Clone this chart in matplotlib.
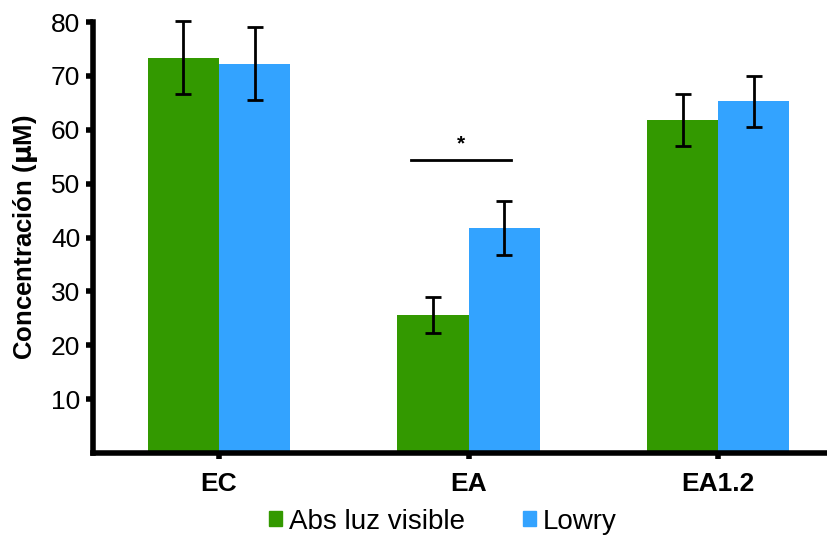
import matplotlib
matplotlib.use('Agg')
import matplotlib.pyplot as plt
import numpy as np
from matplotlib.patches import Patch

plt.rcParams['font.family'] = ['Liberation Sans', 'DejaVu Sans']

categories = ['EC', 'EA', 'EA1.2']
series_names = ['Abs luz visible', 'Lowry']
abs_values = [73.4, 25.6, 61.8]
abs_err = [6.8, 3.3, 4.8]
lowry_values = [72.3, 41.7, 65.3]
lowry_err = [6.8, 5.0, 4.7]
colors = ['#339900', '#33a3ff']
y_ticks = [10, 20, 30, 40, 50, 60, 70, 80]

fig = plt.figure(figsize=(8.28, 5.38), dpi=100)
ax = fig.add_axes([0.112, 0.158, 0.888, 0.801])

x = np.arange(len(categories))
w = 0.285
ax.bar(x - w/2, abs_values, w, color=colors[0])
ax.bar(x + w/2, lowry_values, w, color=colors[1])
for xs, vals, errs in [(x - w/2, abs_values, abs_err), (x + w/2, lowry_values, lowry_err)]:
    eb = ax.errorbar(xs, vals, yerr=errs, fmt='none', ecolor='black',
                     elinewidth=2, capsize=6, capthick=2)
    for art in eb.lines[1] + eb.lines[2]:
        art.set_clip_on(False)

# significance mark for EA
ax.plot([1 - 0.23, 1 + 0.17], [54.3, 54.3], color='black', lw=2)
ax.text(1 - 0.03, 55.6, '*', ha='center', va='bottom', fontsize=15, fontweight='bold')

ax.set_xlim(-0.506, 2.44)
ax.set_ylim(0, 80)
ax.set_xticks(x)
ax.set_xticklabels(categories, fontsize=19, fontweight='bold')
ax.set_yticks(y_ticks)
ax.set_yticklabels([str(t) for t in y_ticks], fontsize=19)
ax.set_ylabel('Concentración ($\\mathbf{\\mu}$M)', fontsize=18.5, fontweight='bold', labelpad=8)

for s in ['top', 'right']:
    ax.spines[s].set_visible(False)
for s in ['left', 'bottom']:
    ax.spines[s].set_linewidth(4)
ax.tick_params(axis='y', length=5, width=4, pad=4)
ax.tick_params(axis='x', length=4, width=4, pad=10)

handles = [Patch(color=colors[0]), Patch(color=colors[1])]
fig.legend(handles, series_names, loc='lower center', bbox_to_anchor=(0.535, -0.04),
           ncol=2, frameon=False, fontsize=20, handlelength=0.45, handleheight=0.48,
           handletextpad=0.25, columnspacing=2.1)

fig.savefig('out.png', dpi=100)
